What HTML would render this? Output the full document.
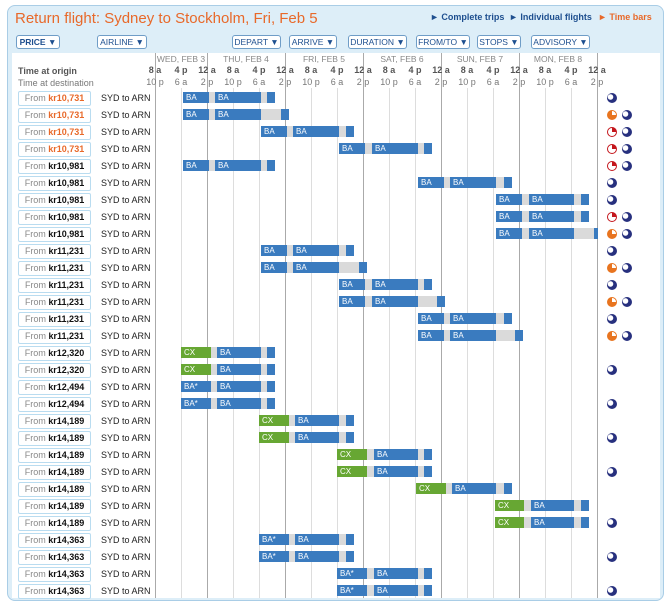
<!DOCTYPE html>
<html><head><meta charset="utf-8">
<style>
*{margin:0;padding:0;box-sizing:border-box}
body{width:668px;height:603px;background:#fff;font-family:"Liberation Sans",sans-serif;position:relative;overflow:hidden}
.a{position:absolute}
#panel{left:7px;top:5px;width:657px;height:596px;background:#ddeef8;border:1px solid #a9cde6;border-radius:8px}
#inner{left:12px;top:53px;width:648px;height:545px;background:#fff}
.title{left:15px;top:10px;font-size:15px;color:#e8692a;white-space:nowrap}
.lnk{top:12px;font-size:9px;font-weight:bold;color:#1e4f8f;white-space:nowrap}
.btn{top:35px;height:14px;border:1px solid #6f9dc7;border-radius:3px;background:#fff;font-size:8.5px;color:#1e4f8f;text-align:center;line-height:12px}
.gl{top:88px;width:1px;height:510px;background:#ddd}
.gl.d{background:#aaa;top:53px;height:545px}
.day{top:54px;font-size:8.5px;color:#888;white-space:nowrap;transform:translateX(-50%)}
.t1{top:65px;font-size:9px;font-weight:bold;color:#555;white-space:nowrap;transform:translateX(-50%)}
.t2{top:77px;font-size:9px;color:#777;white-space:nowrap;transform:translateX(-50%)}
.box{left:18px;width:73px;height:15px;border:1px solid #b9dcf0;border-radius:2px;background:#fff;font-size:9px;color:#888;text-align:center;line-height:13px;white-space:nowrap}
.box b{color:#111}.box b.o{color:#e8692a}
.rt{left:101px;font-size:9px;color:#222;white-space:nowrap}
.g{background:#dadada;height:11px}
.s{height:11px;background:#3a7bbf;color:#fff;font-size:8px;line-height:11px;padding-left:3px;white-space:nowrap;overflow:hidden}
.s.c{background:#67a733}
.ic{width:10px;height:10px;border-radius:50%}
.nv{background:radial-gradient(circle at 35% 40%,#fff 0 2.5px,#27307e 3px)}
.or{background:conic-gradient(#fff 0 25%,#e8741f 25% 100%);border:1px solid #e8741f}
.rd{background:conic-gradient(#c4161c 0 25%,#fff 25% 100%);border:1px solid #c4161c}
</style></head><body>
<div id="panel" class="a"></div>
<div id="inner" class="a"></div>
<div class="a title">Return flight: Sydney to Stockholm, Fri, Feb 5</div>
<div class="a lnk" style="left:430px">► Complete trips</div>
<div class="a lnk" style="left:509px">► Individual flights</div>
<div class="a lnk" style="left:598px;color:#e8692a">► Time bars</div>
<div class="a btn" style="left:16px;width:44px;font-weight:bold">PRICE ▼</div>
<div class="a btn" style="left:97px;width:50px">AIRLINE ▼</div>
<div class="a btn" style="left:232px;width:49px">DEPART ▼</div>
<div class="a btn" style="left:289px;width:48px">ARRIVE ▼</div>
<div class="a btn" style="left:348px;width:59px">DURATION ▼</div>
<div class="a btn" style="left:416px;width:54px">FROM/TO ▼</div>
<div class="a btn" style="left:477px;width:44px">STOPS ▼</div>
<div class="a btn" style="left:531px;width:59px">ADVISORY ▼</div>

<div class="a" style="left:18px;top:66px;font-size:9px;font-weight:bold;color:#555">Time at origin</div>
<div class="a" style="left:18px;top:78px;font-size:9px;color:#777">Time at destination</div>

<div class="a gl d" style="left:155px"></div>
<div class="a gl" style="left:181px"></div>
<div class="a gl d" style="left:207px"></div>
<div class="a gl" style="left:233px"></div>
<div class="a gl" style="left:259px"></div>
<div class="a gl d" style="left:285px"></div>
<div class="a gl" style="left:311px"></div>
<div class="a gl" style="left:337px"></div>
<div class="a gl d" style="left:363px"></div>
<div class="a gl" style="left:389px"></div>
<div class="a gl" style="left:415px"></div>
<div class="a gl d" style="left:441px"></div>
<div class="a gl" style="left:467px"></div>
<div class="a gl" style="left:493px"></div>
<div class="a gl d" style="left:519px"></div>
<div class="a gl" style="left:545px"></div>
<div class="a gl" style="left:571px"></div>
<div class="a gl d" style="left:597px"></div>

<div class="a day" style="left:181px">WED, FEB 3</div>
<div class="a day" style="left:246px">THU, FEB 4</div>
<div class="a day" style="left:324px">FRI, FEB 5</div>
<div class="a day" style="left:402px">SAT, FEB 6</div>
<div class="a day" style="left:480px">SUN, FEB 7</div>
<div class="a day" style="left:558px">MON, FEB 8</div>

<div class="a t1" style="left:155px">8 a</div><div class="a t2" style="left:155px">10 p</div>
<div class="a t1" style="left:181px">4 p</div><div class="a t2" style="left:181px">6 a</div>
<div class="a t1" style="left:207px">12 a</div><div class="a t2" style="left:207px">2 p</div>
<div class="a t1" style="left:233px">8 a</div><div class="a t2" style="left:233px">10 p</div>
<div class="a t1" style="left:259px">4 p</div><div class="a t2" style="left:259px">6 a</div>
<div class="a t1" style="left:285px">12 a</div><div class="a t2" style="left:285px">2 p</div>
<div class="a t1" style="left:311px">8 a</div><div class="a t2" style="left:311px">10 p</div>
<div class="a t1" style="left:337px">4 p</div><div class="a t2" style="left:337px">6 a</div>
<div class="a t1" style="left:363px">12 a</div><div class="a t2" style="left:363px">2 p</div>
<div class="a t1" style="left:389px">8 a</div><div class="a t2" style="left:389px">10 p</div>
<div class="a t1" style="left:415px">4 p</div><div class="a t2" style="left:415px">6 a</div>
<div class="a t1" style="left:441px">12 a</div><div class="a t2" style="left:441px">2 p</div>
<div class="a t1" style="left:467px">8 a</div><div class="a t2" style="left:467px">10 p</div>
<div class="a t1" style="left:493px">4 p</div><div class="a t2" style="left:493px">6 a</div>
<div class="a t1" style="left:519px">12 a</div><div class="a t2" style="left:519px">2 p</div>
<div class="a t1" style="left:545px">8 a</div><div class="a t2" style="left:545px">10 p</div>
<div class="a t1" style="left:571px">4 p</div><div class="a t2" style="left:571px">6 a</div>
<div class="a t1" style="left:597px">12 a</div><div class="a t2" style="left:597px">2 p</div>

<div id="rows"></div>
<script>
var T={
A:[[183,209,'BA',0],[215,261,'BA',0],[267,275,'',0]],
A2:[[183,209,'BA',0],[215,261,'BA',0],[281,289,'',0]],
B:[[261,287,'BA',0],[293,339,'BA',0],[346,354,'',0]],
B2:[[261,287,'BA',0],[293,339,'BA',0],[359,367,'',0]],
C:[[339,365,'BA',0],[372,418,'BA',0],[424,432,'',0]],
C2:[[339,365,'BA',0],[372,418,'BA',0],[437,445,'',0]],
D:[[418,444,'BA',0],[450,496,'BA',0],[504,512,'',0]],
D2:[[418,444,'BA',0],[450,496,'BA',0],[515,523,'',0]],
E:[[496,522,'BA',0],[529,574,'BA',0],[581,589,'',0]],
E2:[[496,522,'BA',0],[529,574,'BA',0],[594,598,'',0]],
G:[[181,211,'CX',1],[217,261,'BA',0],[267,275,'',0]],
Gs:[[181,211,'BA*',0],[217,261,'BA',0],[267,275,'',0]],
H:[[259,289,'CX',1],[295,339,'BA',0],[346,354,'',0]],
Hs:[[259,289,'BA*',0],[295,339,'BA',0],[346,354,'',0]],
I:[[337,367,'CX',1],[374,418,'BA',0],[424,432,'',0]],
Is:[[337,367,'BA*',0],[374,418,'BA',0],[424,432,'',0]],
J:[[416,446,'CX',1],[452,496,'BA',0],[504,512,'',0]],
K:[[495,524,'CX',1],[531,574,'BA',0],[581,589,'',0]]};
var R=[
['kr10,731',1,'A','n'],['kr10,731',1,'A2','on'],['kr10,731',1,'B','rn'],['kr10,731',1,'C','rn'],
['kr10,981',0,'A','rn'],['kr10,981',0,'D','n'],['kr10,981',0,'E','n'],['kr10,981',0,'E','rn'],['kr10,981',0,'E2','on'],
['kr11,231',0,'B','n'],['kr11,231',0,'B2','on'],['kr11,231',0,'C','n'],['kr11,231',0,'C2','on'],['kr11,231',0,'D','n'],['kr11,231',0,'D2','on'],
['kr12,320',0,'G',''],['kr12,320',0,'G','n'],['kr12,494',0,'Gs',''],['kr12,494',0,'Gs','n'],
['kr14,189',0,'H',''],['kr14,189',0,'H','n'],['kr14,189',0,'I',''],['kr14,189',0,'I','n'],['kr14,189',0,'J',''],['kr14,189',0,'K',''],['kr14,189',0,'K','n'],
['kr14,363',0,'Hs',''],['kr14,363',0,'Hs','n'],['kr14,363',0,'Is',''],['kr14,363',0,'Is','n']];
var h='';
R.forEach(function(r,i){
 var c=98+17*i;
 h+='<div class="a box" style="top:'+(c-7)+'px">From <b'+(r[1]?' class="o"':'')+'>'+r[0]+'</b></div>';
 h+='<div class="a rt" style="top:'+(c-5)+'px">SYD to ARN</div>';
 var s=T[r[2]],x0=s[0][0],x1=s[2][1];
 h+='<div class="a g" style="left:'+x0+'px;top:'+(c-6)+'px;width:'+(x1-x0)+'px"></div>';
 s.forEach(function(q){h+='<div class="a s'+(q[3]?' c':'')+'" style="left:'+q[0]+'px;top:'+(c-6)+'px;width:'+(q[1]-q[0])+'px">'+q[2]+'</div>';});
 var ic=r[3];
 if(ic=='n')h+='<div class="a ic nv" style="left:607px;top:'+(c-5)+'px"></div>';
 else if(ic){h+='<div class="a ic '+(ic[0]=='o'?'or':'rd')+'" style="left:607px;top:'+(c-5)+'px"></div>';
  h+='<div class="a ic nv" style="left:622px;top:'+(c-5)+'px"></div>';}
});
document.getElementById('rows').innerHTML=h;
</script>
</body></html>
